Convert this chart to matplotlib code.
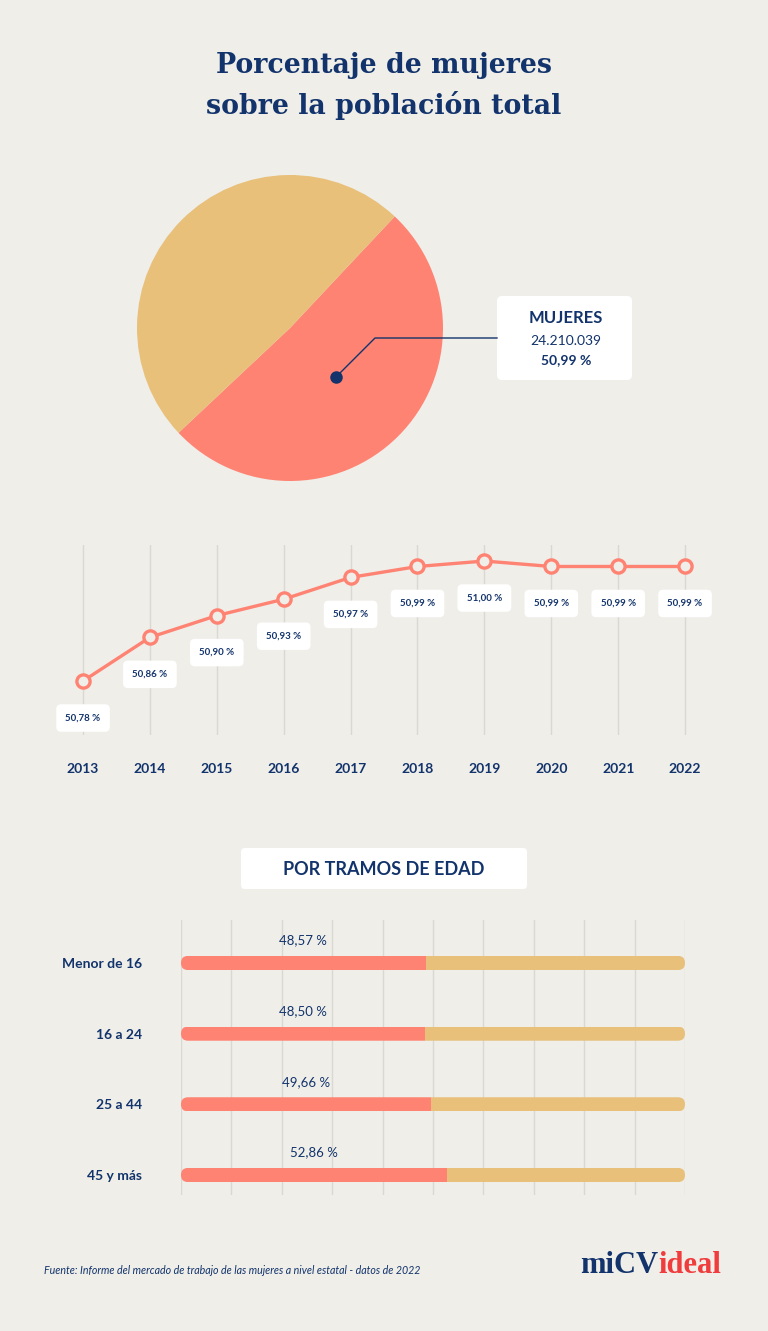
import matplotlib.pyplot as plt
from matplotlib.patches import FancyBboxPatch

# colours
bg = '#EFEEE9'
pink = '#FF8373'
gold = '#E8C07A'
navy = '#12336B'
red = '#F03C3C'
gridc = '#DAD8D2'

# data
pie_labels = ['Mujeres', 'Hombres']
pie_values = [50.99, 49.01]
mujeres_total = '24.210.039'

years = [2013, 2014, 2015, 2016, 2017, 2018, 2019, 2020, 2021, 2022]
pct_mujeres = [50.78, 50.86, 50.90, 50.93, 50.97, 50.99, 51.00, 50.99, 50.99, 50.99]

tramos = ['Menor de 16', '16 a 24', '25 a 44', '45 y más']
pct_tramos = [48.57, 48.50, 49.66, 52.86]

plt.rcParams['font.family'] = ['Lato', 'DejaVu Sans']

W, H = 768, 1331


def box(x0, y0, x1, y1):
    return [x0 / W, 1 - y1 / H, (x1 - x0) / W, (y1 - y0) / H]


def fmt(v):
    return f'{v:.2f}'.replace('.', ',') + ' %'


fig = plt.figure(figsize=(W / 100, H / 100), dpi=100, facecolor=bg)

# --- pie ---
ax_pie = fig.add_axes(box(137, 175, 443, 481))
ax_pie.pie(pie_values, colors=[pink, gold], startangle=46.8,
           counterclock=False, radius=1, wedgeprops=dict(linewidth=0))
ax_pie.set_xlim(-1, 1)
ax_pie.set_ylim(-1, 1)
ax_pie.set_aspect('equal')
ax_pie.axis('off')

# --- line chart ---
ax_line = fig.add_axes(box(49.6, 545, 718.5, 735))
ax_line.set_facecolor('none')
ax_line.plot(years, pct_mujeres, color=pink, lw=2.4, marker='o', ms=9.5,
             mfc=bg, mec=pink, mew=2.4, zorder=3, clip_on=False)
for x, v in zip(years, pct_mujeres):
    ax_line.annotate(fmt(v), (x, v), xytext=(0, -37), textcoords='offset pixels',
                     ha='center', va='center', fontsize=7, fontweight='bold',
                     color=navy, zorder=4, annotation_clip=False,
                     bbox=dict(boxstyle='round,pad=0.95,rounding_size=0.5',
                               fc='white', ec='none'))
ax_line.set_xlim(2012.5, 2022.5)
ax_line.set_ylim(50.681, 51.0294)
ax_line.set_xticks(years)
ax_line.set_yticks([])
ax_line.grid(axis='x', color=gridc, lw=1)
ax_line.tick_params(axis='x', length=0, pad=20.5, labelsize=10, labelcolor=navy)
for lab in ax_line.get_xticklabels():
    lab.set_fontweight('bold')
for s in ax_line.spines.values():
    s.set_visible(False)

# --- age bars ---
ax_bar = fig.add_axes(box(181, 920, 685, 1195))
ax_bar.set_facecolor('none')
ypos = list(range(len(tramos)))
h = 0.2
bars_w = ax_bar.barh(ypos, pct_tramos, height=h, color=pink, zorder=3)
bars_m = ax_bar.barh(ypos, [100 - v for v in pct_tramos], left=pct_tramos,
                     height=h, color=gold, zorder=3)
asp = (3.283 + 0.608) / 275 / (100 / 504)
for i, y in enumerate(ypos):
    track = FancyBboxPatch((0, y - h / 2), 100, h,
                           boxstyle='round,pad=0,rounding_size=1.39',
                           mutation_aspect=asp, transform=ax_bar.transData,
                           fc='none', ec='none')
    ax_bar.add_patch(track)
    bars_w[i].set_clip_path(track)
    bars_m[i].set_clip_path(track)
    ax_bar.text(pct_tramos[i] / 2, y - 0.32, fmt(pct_tramos[i]), ha='center',
                va='center', fontsize=9.5, color=navy)
ax_bar.set_xlim(0, 100)
ax_bar.set_ylim(3.283, -0.608)
ax_bar.set_xticks(range(0, 101, 10))
ax_bar.set_xticklabels([])
ax_bar.set_yticks(ypos)
ax_bar.set_yticklabels(tramos)
ax_bar.grid(axis='x', color=gridc, lw=1, zorder=0)
ax_bar.set_axisbelow(True)
ax_bar.tick_params(length=0, pad=28)
ax_bar.tick_params(axis='y', labelsize=10, labelcolor=navy)
for lab in ax_bar.get_yticklabels():
    lab.set_fontweight('bold')
for s in ax_bar.spines.values():
    s.set_visible(False)

# --- overlay for titles, callout and footer ---
ov = fig.add_axes([0, 0, 1, 1], zorder=10)
ov.set_xlim(0, W)
ov.set_ylim(H, 0)
ov.axis('off')
ov.patch.set_alpha(0)

ov.text(W / 2, 86, 'Porcentaje de mujeres\nsobre la población total', ha='center',
        va='center', fontsize=19.3, fontweight='bold', color=navy,
        family='DejaVu Serif', linespacing=1.5)

# callout
ov.plot([336, 375, 497], [377, 338, 338], color=navy, lw=1)
ov.plot([336], [377], 'o', color=navy, ms=8)
ov.add_patch(FancyBboxPatch((497, 296), 135, 84,
                            boxstyle='round,pad=0,rounding_size=5',
                            fc='white', ec='none'))
ov.text(566, 318, 'MUJERES', ha='center', va='center', fontsize=12,
        fontweight='bold', color=navy)
ov.text(566, 341, mujeres_total, ha='center', va='center', fontsize=10,
        color=navy)
ov.text(566, 360, fmt(pie_values[0]), ha='center', va='center', fontsize=10,
        fontweight='bold', color=navy)

# section header
ov.add_patch(FancyBboxPatch((241, 848), 286, 41,
                            boxstyle='round,pad=0,rounding_size=4',
                            fc='white', ec='none'))
ov.text(384, 869.5, 'POR TRAMOS DE EDAD', ha='center', va='center',
        fontsize=13, fontweight='bold', color=navy)

# footer
ov.text(44, 1270, 'Fuente: Informe del mercado de trabajo de las mujeres a nivel '
        'estatal - datos de 2022', ha='left', va='center', fontsize=7.7,
        style='italic', color=navy)
t1 = ov.text(580, 1280, 'miCV', ha='left', va='bottom', fontsize=22,
             fontweight='bold', color=navy, family='Liberation Serif')
ov.annotate('ideal', xy=(1, 0), xycoords=t1, ha='left', va='bottom',
            fontsize=22, fontweight='bold', color=red,
            family='Liberation Serif')

fig.savefig('out.png', dpi=100, facecolor=bg)
